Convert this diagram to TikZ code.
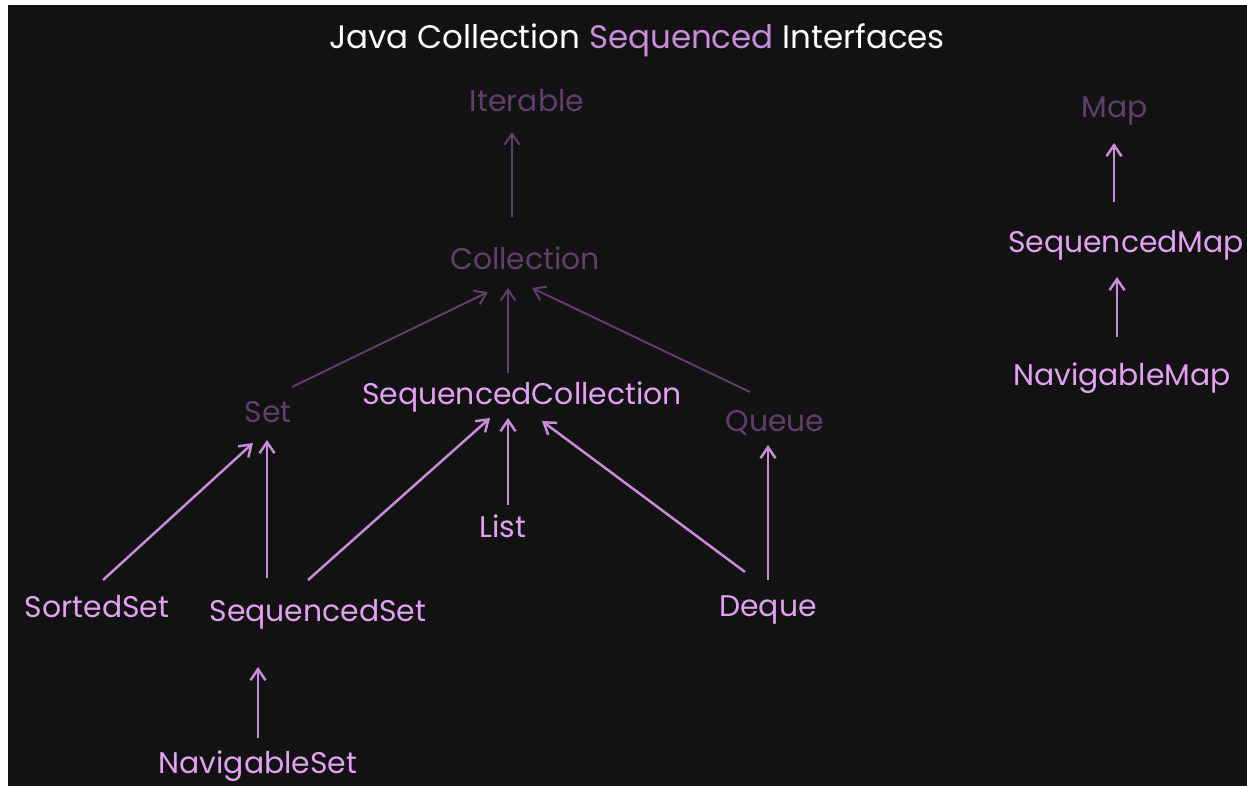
\documentclass[tikz,border=0pt]{standalone}
\usepackage{fontspec}
\setmainfont{Poppins}
\usetikzlibrary{calc, arrows.meta}
\definecolor{bgdark}{RGB}{18,18,18}
\definecolor{lilac}{RGB}{228,160,242}
\definecolor{lilacline}{RGB}{204,140,222}
\definecolor{plumdim}{RGB}{98,62,108}

\begin{document}
\begin{tikzpicture}[x=0.02cm, y=-0.02cm]
	\tikzstyle{sequenced}=[text=lilac, anchor=base, inner sep=1pt,
	font=\fontsize{17}{20}\selectfont]
	\tikzstyle{legacy}=[sequenced, text=plumdim]
	\tikzstyle{newedge}=[draw=lilacline, line width=1.4pt,
	-{Straight Barb[length=2.2mm, width=3mm]}]
	\tikzstyle{oldedge}=[newedge, draw=plumdim, line width=1.1pt]
	
	\useasboundingbox (0,0) rectangle (1247,786);
	\fill[white] (0,0) rectangle (1247,786);
	\fill[bgdark] (8,5) rectangle (1247,786);
	
	\node[sequenced, text=white, font=\fontsize{18.5}{22}\selectfont] at (637,49) (title) {Java Collection \textcolor{lilacline}{Sequenced} Interfaces};
	
	\node[legacy] at (527,112) (iter) {Iterable};
	\node[legacy] at (525,270) (coll) {Collection};
	\node[sequenced] at (522,405) (seqcoll) {SequencedCollection};
	\node[legacy] at (268,423) (set) {Set};
	\node[legacy] at (775,432) (queue) {Queue};
	\node[sequenced] at (503,538) (list) {List};
	\node[sequenced] at (97,618) (sortedset) {SortedSet};
	\node[sequenced] at (318,622) (seqset) {SequencedSet};
	\node[sequenced] at (768,617) (deque) {Deque};
	\node[sequenced] at (258,773) (navset) {NavigableSet};
	
	\node[legacy] at (1115,118) (map) {Map};
	\node[sequenced] at (1126,253) (seqmap) {SequencedMap};
	\node[sequenced] at (1122,386) (navmap) {NavigableMap};
	
	\draw[oldedge] ($(coll.base)+(-13,-53)$) -- ($(iter.base)+(-15,20)$);
	\draw[oldedge] ($(set.base)+(24,-36)$) -- ($(coll.base)+(-37,22)$);
	\draw[oldedge] ($(seqcoll.base)+(-14,-32)$) -- ($(coll.base)+(-17,18)$);
	\draw[oldedge] ($(queue.base)+(-25,-40)$) -- ($(coll.base)+(7,18)$);
	
	\draw[newedge] ($(sortedset.base)+(6,-38)$) -- ($(set.base)+(-15,20)$);
	\draw[newedge] ($(seqset.base)+(-51,-44)$) -- ($(set.base)+(-1,17)$);
	\draw[newedge] ($(seqset.base)+(-10,-42)$) -- ($(seqcoll.base)+(-32,13)$);
	\draw[newedge] ($(list.base)+(5,-33)$) -- ($(seqcoll.base)+(-14,13)$);
	\draw[newedge] ($(deque.base)+(-23,-45)$) -- ($(seqcoll.base)+(20,16)$);
	\draw[newedge] ($(deque.base)+(0,-37)$) -- ($(queue.base)+(-7,13)$);
	\draw[newedge] ($(navset.base)+(0,-35)$) -- ($(seqset.base)+(-60,45)$);
	
	\draw[newedge] ($(seqmap.base)+(-12,-51)$) -- ($(map.base)+(-1,25)$);
	\draw[newedge] ($(navmap.base)+(-5,-49)$) -- ($(seqmap.base)+(-9,24)$);
	
\end{tikzpicture}
\end{document}
